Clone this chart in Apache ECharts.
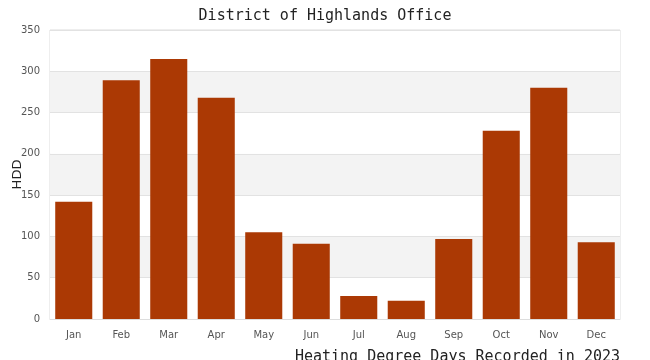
<!DOCTYPE html>
<html>
<head>
<meta charset="utf-8">
<script src="https://cdn.jsdelivr.net/npm/echarts@6/dist/echarts.min.js"></script>
<style>html,body{margin:0;padding:0;background:#fff}#c{width:650px;height:360px}</style>
</head>
<body>
<div id="c"></div>
<script>
const months = ['Jan','Feb','Mar','Apr','May','Jun','Jul','Aug','Sep','Oct','Nov','Dec'];
const hdd = [142, 289, 315, 268, 105, 91, 28, 22, 97, 228, 280, 93];
const titleText = 'District of Highlands Office';
const subtitleText = 'Heating Degree Days Recorded in 2023';
const yName = 'HDD';

const chart = echarts.init(document.getElementById('c'), null, {renderer: 'canvas'});
chart.setOption({
  animation: false,
  backgroundColor: '#fff',
  title: [
    {text: titleText, left: 'center', top: 4,
     textStyle: {fontFamily: 'DejaVu Sans Mono', fontSize: 15, fontWeight: 'normal', color: '#222'}},
    {text: subtitleText, right: 25, top: 345,
     textStyle: {fontFamily: 'DejaVu Sans Mono', fontSize: 15, fontWeight: 'normal', color: '#222'}}
  ],
  grid: {left: 50, right: 30, top: 30, bottom: 41, outerBoundsMode: 'none', containLabel: false,
         show: true, borderColor: '#ddd', borderWidth: 1, backgroundColor: 'transparent'},
  xAxis: {
    type: 'category', data: months,
    axisLine: {show: true, lineStyle: {color: '#ddd'}},
    axisTick: {show: false},
    axisLabel: {fontFamily: 'DejaVu Sans', fontSize: 10, color: '#555', margin: 11}
  },
  yAxis: {
    type: 'value', min: 0, max: 350, interval: 50,
    name: yName, nameLocation: 'middle', nameGap: 26, nameMoveOverlap: false,
    nameTextStyle: {fontFamily: 'DejaVu Sans', fontSize: 13, color: '#222'},
    axisLine: {show: false}, axisTick: {show: false},
    axisLabel: {fontFamily: 'DejaVu Sans', fontSize: 10, color: '#555', margin: 10},
    splitLine: {show: true, lineStyle: {color: '#e2e2e2'}},
    splitArea: {show: true, areaStyle: {color: ['#ffffff', '#f3f3f3']}}
  },
  series: [{
    type: 'bar', data: hdd, barCategoryGap: '22%',
    itemStyle: {color: '#ab3904'}
  }]
});
</script>
</body>
</html>
